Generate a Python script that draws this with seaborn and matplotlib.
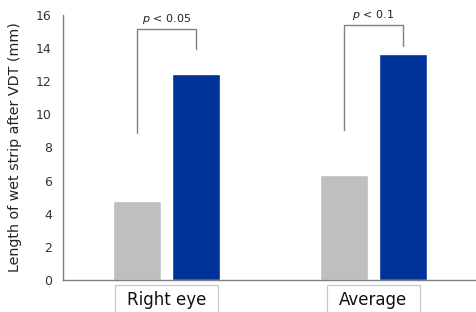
import numpy as np
import pandas as pd
import matplotlib
matplotlib.use("Agg")
import matplotlib.pyplot as plt
import matplotlib.transforms as mtransforms
from matplotlib.patches import Rectangle
import seaborn as sns

# values
categories = ["Right eye", "Average"]
groups = ["Control", "Treated"]
control_vals = [4.75, 6.35]
treated_vals = [12.45, 13.65]
p_labels = ["$p$ < 0.05", "$p$ < 0.1"]
bracket_top = [15.15, 15.4]
bracket_left_bottom = [8.9, 9.05]
bracket_right_bottom = [13.95, 14.1]

df = pd.DataFrame({
    "category": categories * 2,
    "group": [groups[0]] * 2 + [groups[1]] * 2,
    "value": control_vals + treated_vals,
})

sns.set_style("white")
plt.rcParams["font.family"] = ["DejaVu Sans"]

fig = plt.figure(figsize=(4.77, 3.12), dpi=100)
ax = fig.add_axes([63 / 477, 32 / 312, 414 / 477, 265 / 312])

sns.barplot(data=df, x="category", y="value", hue="group", order=categories,
            hue_order=groups, palette=["#bfbfbf", "#003399"], width=0.57,
            gap=0.2, legend=False, ax=ax, saturation=1)

ax.set_xlim(-0.5, 1.5)
ax.set_ylim(0, 16)
ax.set_yticks(np.arange(0, 17, 2))
ax.set_xlabel("")
ax.set_ylabel("Length of wet strip after VDT (mm)", fontsize=10.3, color="#222222",
              labelpad=10)

for s in ["top", "right"]:
    ax.spines[s].set_visible(False)
for s in ["left", "bottom"]:
    ax.spines[s].set_color("#808080")
    ax.spines[s].set_linewidth(1)

ax.tick_params(axis="y", direction="in", length=4, color="#808080",
               labelsize=9, labelcolor="#333333", pad=8)
ax.tick_params(axis="x", length=0, pad=8)
for lab in ax.get_xticklabels():
    lab.set_fontsize(12)
    lab.set_color("#111111")

# significance brackets between the two bars of each category
bars = ax.patches
n = len(categories)
for i in range(n):
    b0 = bars[i]
    b1 = bars[n + i]
    x0 = b0.get_x() + b0.get_width() / 2
    x1 = b1.get_x() + b1.get_width() / 2
    ax.plot([x0, x0, x1, x1],
            [bracket_left_bottom[i], bracket_top[i], bracket_top[i], bracket_right_bottom[i]],
            color="#808080", lw=1, solid_joinstyle="miter")
    ax.text((x0 + x1) / 2, bracket_top[i] + 0.2, p_labels[i], ha="center",
            va="bottom", fontsize=8, color="#222222")

# boxes around the category labels
fig.canvas.draw()
renderer = fig.canvas.get_renderer()
box_top = 312 - 285
for lab in ax.get_xticklabels():
    bb = lab.get_window_extent(renderer)
    rect = Rectangle((bb.x0 - 12, -5), bb.width + 24, box_top + 5,
                     transform=mtransforms.IdentityTransform(),
                     facecolor="none", edgecolor="#c8c8c8", linewidth=0.9)
    fig.add_artist(rect)

fig.savefig("out.png", dpi=100)
